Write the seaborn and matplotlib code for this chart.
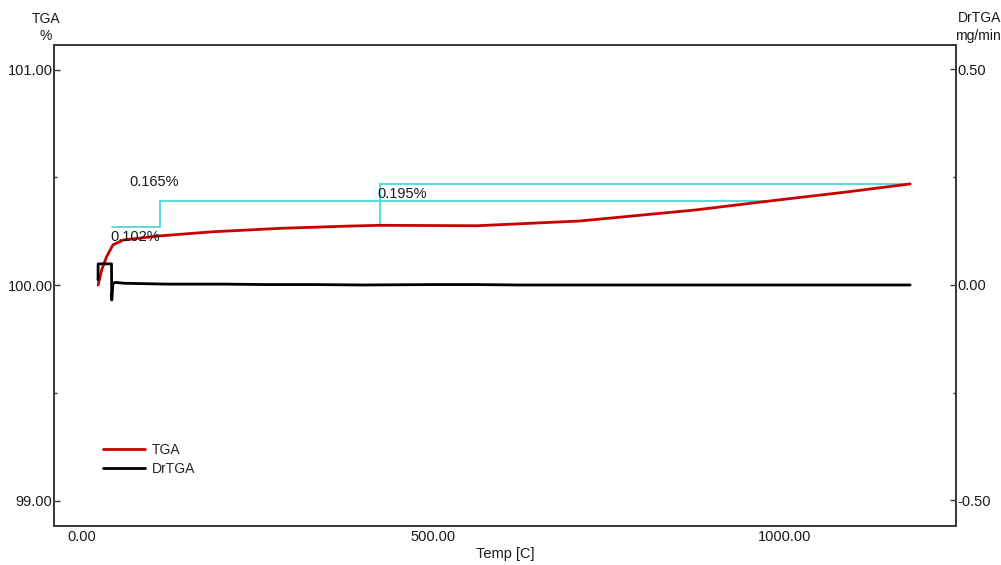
import numpy as np
import pandas as pd
import matplotlib
matplotlib.use("Agg")
import matplotlib.pyplot as plt
import seaborn as sns

# ---- data ----
tga_temp = [23, 28, 35, 44, 59, 111, 186, 282, 375, 424, 562, 708, 872, 981, 1091, 1178]
tga_pct = [100.000, 100.070, 100.131, 100.186, 100.209, 100.228, 100.247, 100.263,
           100.273, 100.277, 100.275, 100.297, 100.348, 100.391, 100.433, 100.469]

dtg_temp = [22.8, 23.0, 42.0, 42.3, 44.0, 48.0, 60, 90, 120, 160, 200, 260, 330,
            400, 500, 560, 620, 700, 800, 1000, 1178]
dtg_val = [0.012, 0.049, 0.049, -0.035, 0.004, 0.006, 0.004, 0.003, 0.002, 0.002,
           0.002, 0.001, 0.001, 0.0, 0.001, 0.001, 0.0, 0.0, 0.0, 0.0, 0.0]

# weight-change marker lines (cyan): (x_start, x_end, level) and verticals (x, y0, y1)
mark_h_x0 = [42.7, 111, 424]
mark_h_x1 = [111, 981, 1178]
mark_h_y = [100.2705, 100.391, 100.469]
mark_v_x = [111, 424]
mark_v_y0 = [100.2705, 100.277]
mark_v_y1 = [100.391, 100.469]
mark_labels = ["0.102%", "0.165%", "0.195%"]
mark_label_x = [40, 67, 420]
mark_label_y = [100.223, 100.48, 100.42]

x_ticks = [0, 500, 1000]
x_ticklabels = ["0.00", "500.00", "1000.00"]
y_ticks = [99, 100, 101]
y_ticklabels = ["99.00", "100.00", "101.00"]
y2_ticks = [-0.5, 0.0, 0.5]
y2_ticklabels = ["-0.50", "0.00", "0.50"]

sns.set_style("white")
plt.rcParams['font.family'] = ['Liberation Sans', 'DejaVu Sans']

W, H = 1001, 565
fig = plt.figure(figsize=(W / 100, H / 100), dpi=100)
ax = fig.add_axes([54 / W, 1 - 526 / H, (956 - 54) / W, (526 - 45) / H])
ax2 = ax.twinx()

red = "#c80000"
cyan = "#4ad8dc"
spine_col = "#3a3a3a"
txt_col = "#1a1a1a"

# cyan marker lines
for x0, x1, yv in zip(mark_h_x0, mark_h_x1, mark_h_y):
    ax.plot([x0, x1], [yv, yv], color=cyan, lw=1.3, zorder=2)
for xv, y0, y1 in zip(mark_v_x, mark_v_y0, mark_v_y1):
    ax.plot([xv, xv], [y0, y1], color=cyan, lw=1.3, zorder=2)

df_tga = pd.DataFrame({"Temp": tga_temp, "TGA": tga_pct})
df_dtg = pd.DataFrame({"Temp": dtg_temp, "DrTGA": dtg_val})

sns.lineplot(data=df_tga, x="Temp", y="TGA", ax=ax, color=red, lw=2.0,
             sort=False, estimator=None, zorder=3, legend=False)
sns.lineplot(data=df_dtg, x="Temp", y="DrTGA", ax=ax2, color="black", lw=2.0,
             sort=False, estimator=None, zorder=3, legend=False)

for lab, lx, ly in zip(mark_labels, mark_label_x, mark_label_y):
    ax.text(lx, ly, lab, fontsize=10.5, color=txt_col, va="center", ha="left", zorder=4)

ax.set_xlim(-39.8, 1243.2)
ax.set_ylim(98.8817, 101.1137)
ax2.set_ylim(-0.5592, 0.5568)

ax.set_xticks(x_ticks)
ax.set_xticklabels(x_ticklabels)
ax.set_yticks(y_ticks)
ax.set_yticklabels(y_ticklabels)
ax2.set_yticks(y2_ticks)
ax2.set_yticklabels(y2_ticklabels)
ax.set_xticks(np.arange(100, 1201, 100), minor=True)
ax.set_yticks([99.5, 100.5], minor=True)
ax2.set_yticks([-0.25, 0.25], minor=True)

ax.set_xlabel("Temp [C]", fontsize=10.5, color=txt_col, labelpad=2)
ax.set_ylabel("")
ax2.set_ylabel("")

for a in (ax, ax2):
    a.tick_params(axis="both", which="major", direction="in", length=4.5, width=1,
                  color=spine_col, labelsize=10.5, labelcolor=txt_col, pad=1)
    a.tick_params(axis="both", which="minor", direction="in", length=2, width=1,
                  color=spine_col)
    for s in a.spines.values():
        s.set_color(spine_col)
        s.set_linewidth(1.3)
ax.tick_params(axis="x", pad=3)

ax.grid(False)
ax2.grid(False)

# axis titles
fig.text(46 / W, 1 - 19 / H, "TGA", fontsize=10, color=txt_col, ha="center", va="center")
fig.text(46 / W, 1 - 36 / H, "%", fontsize=10, color=txt_col, ha="center", va="center")
fig.text(980 / W, 1 - 18 / H, "DrTGA", fontsize=10, color=txt_col, ha="center", va="center")
fig.text(955 / W, 1 - 36 / H, "mg/min", fontsize=10, color=txt_col, ha="left", va="center")

# legend
from matplotlib.lines import Line2D
handles = [Line2D([0], [0], color=red, lw=2.0), Line2D([0], [0], color="black", lw=2.0)]
fig.legend(handles, ["TGA", "DrTGA"], loc="upper left",
           bbox_to_anchor=(103 / W, 1 - 443 / H), frameon=False, fontsize=10,
           handlelength=3.0, handletextpad=0.5, labelspacing=0.35,
           borderpad=0, borderaxespad=0)

fig.savefig("out.png", dpi=100)
